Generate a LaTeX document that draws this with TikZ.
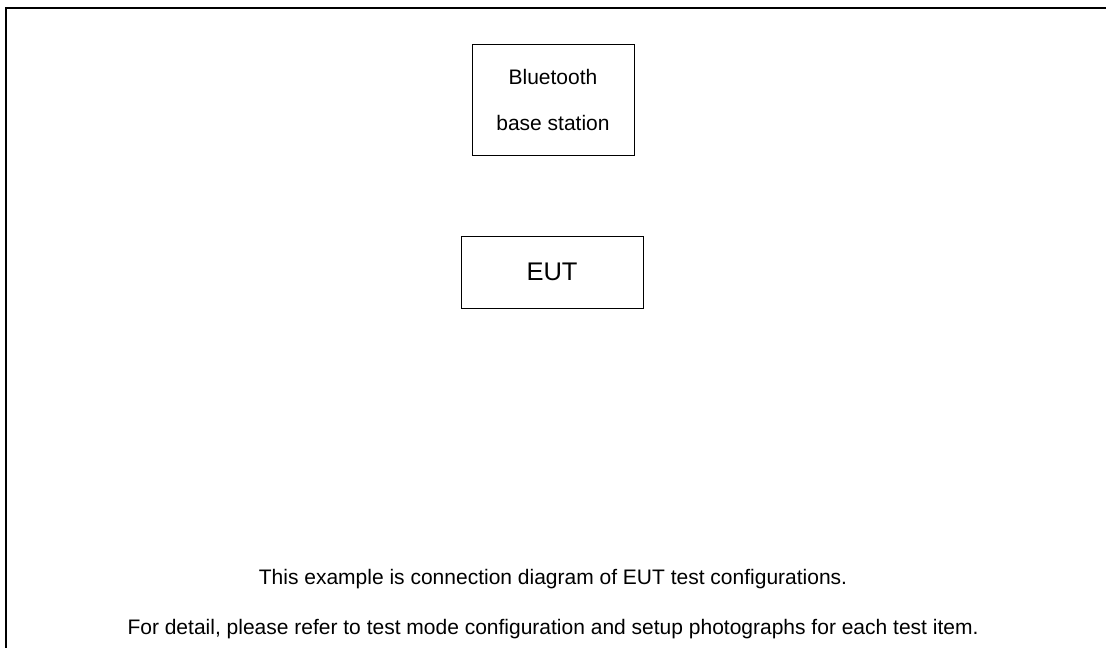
\documentclass[tikz,border=0pt]{standalone}
\usepackage{fontspec}
\setmainfont{Liberation Sans}
\usepackage{tikz}

\begin{document}
\begin{tikzpicture}[x=1pt,y=-1pt,
    unitbox/.style={draw, line width=1pt, inner sep=0pt, align=center},
    note/.style={font=\fontsize{21}{25}\selectfont}]
          \useasboundingbox (0,0) rectangle (1106,648);
          \draw[line width=2pt] (6,648) -- (6,8) -- (1106,8);
          \node[unitbox, minimum width=162pt, minimum height=111pt, font=\fontsize{21}{46}\selectfont] (bt) at (553,99.5) {Bluetooth\\base station};
          \node[unitbox, minimum width=182pt, minimum height=72pt, font=\fontsize{25.5}{30}\selectfont] (eut) at (552,272) {EUT};
          \node[note] (line1) at (553,579) {This example is connection diagram of EUT test configurations.};
          \node[note] (line2) at (553,629) {For detail, please refer to test mode configuration and setup photographs for each test item.};
      \end{tikzpicture}
\end{document}
